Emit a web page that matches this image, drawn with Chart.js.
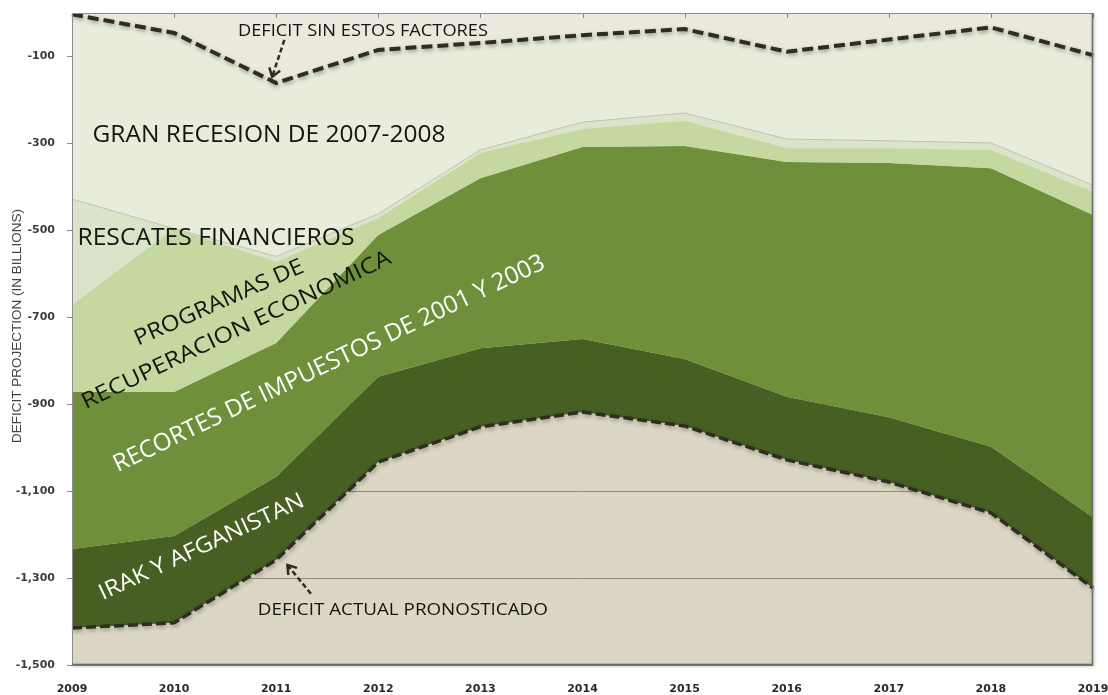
<!DOCTYPE html>
<html>
<head>
<meta charset="utf-8">
<script src="https://cdn.jsdelivr.net/npm/chart.js@4.4.1/dist/chart.umd.min.js"></script>
<style>
  body { margin: 0; background: #fff; }
  #wrap { width: 1108px; height: 695px; position: relative; }
</style>
</head>
<body>
<div id="wrap"><canvas id="deficit"></canvas></div>
<script>
// years on the x axis
const years = ['2009', '2010', '2011', '2012', '2013', '2014', '2015', '2016', '2017', '2018', '2019'];
const yTicks = [-1500, -1300, -1100, -900, -700, -500, -300, -100];

// boundary lines of the stacked bands, top to bottom (billions)
const deficitSinFactores = [-3, -46, -161, -85, -69, -51, -37, -89, -61, -33, -97];
const limiteRecesion     = [-428, -496, -560, -462, -315, -251, -230, -290, -294, -299, -396];
const limiteRescates     = [-672, -496, -572, -472, -322, -267, -248, -311, -311, -315, -412];
const limiteProgramas    = [-872, -872, -759, -511, -380, -308, -306, -343, -345, -357, -465];
const limiteRecortes     = [-1233, -1203, -1067, -837, -771, -750, -796, -883, -930, -998, -1160];
const deficitActual      = [-1415, -1403, -1258, -1033, -952, -918, -950, -1028, -1079, -1150, -1323];

// text labels placed in data coordinates (x = year index, y = value)
const labels = [
    {text: 'DEFICIT SIN ESTOS FACTORES', x: 2.85, y: -41, size: 17, width: 250, angle: 0, color: '#151510'},
    {text: 'GRAN RECESION DE 2007-2008', x: 1.93, y: -281, size: 24, width: 353, angle: 0, color: '#151510'},
    {text: 'RESCATES FINANCIEROS', x: 1.41, y: -518, size: 23, width: 277, angle: 0, color: '#151510'},
    {text: 'PROGRAMAS DE', x: 1.44, y: -667, size: 22, width: 183, angle: -24, color: '#151510'},
    {text: 'RECUPERACION ECONOMICA', x: 1.61, y: -730, size: 22, width: 340, angle: -25.5, color: '#151510'},
    {text: 'RECORTES DE IMPUESTOS DE 2001 Y 2003', x: 2.52, y: -807, size: 24, width: 475, angle: -25.5, color: '#ffffff'},
    {text: 'IRAK Y AFGANISTAN', x: 1.27, y: -1229, size: 22, width: 224, angle: -25, color: '#ffffff'},
    {text: 'DEFICIT ACTUAL PRONOSTICADO', x: 3.24, y: -1373, size: 17, width: 290, angle: 0, color: '#151510'}
];
const arrows = [
    {from: [2.08, -62], to: [1.96, -147]},
    {from: [2.34, -1336], to: [2.11, -1270]}
];

function band(data, color, extra) {
    return Object.assign({
        data: data,
        backgroundColor: color,
        borderWidth: 0,
        pointRadius: 0,
        tension: 0,
        fill: '-1'
    }, extra || {});
}

const deficitPlugin = {
    id: 'deficitPlugin',
    beforeDraw(chart) {
        const a = chart.chartArea, ctx = chart.ctx;
        ctx.save();
        ctx.fillStyle = '#dcd7c4';
        ctx.fillRect(a.left, a.top, a.right - a.left, a.bottom - a.top);
        ctx.restore();
    },
    beforeDatasetDraw(chart, args) {
        const ds = chart.data.datasets[args.index];
        chart.ctx.save();
        if (ds.borderDash) {
            chart.ctx.shadowColor = 'rgba(0,0,0,0.35)';
            chart.ctx.shadowBlur = 4;
            chart.ctx.shadowOffsetY = 2;
            chart.ctx.shadowOffsetX = 1;
        }
    },
    afterDatasetDraw(chart) {
        chart.ctx.restore();
    },
    afterDraw(chart) {
        const ctx = chart.ctx, a = chart.chartArea;
        const xs = chart.scales.x, ys = chart.scales.y;

        // frame of the plot
        ctx.save();
        ctx.strokeStyle = '#8d8d8d';
        ctx.lineWidth = 1;
        ctx.beginPath();
        ctx.moveTo(a.left + 0.5, a.bottom);
        ctx.lineTo(a.left + 0.5, a.top + 0.5);
        ctx.lineTo(a.right - 0.5, a.top + 0.5);
        ctx.stroke();
        for (let i = 0; i < years.length; i++) {
            const px = Math.round(xs.getPixelForTick(i)) + 0.5;
            ctx.beginPath();
            ctx.moveTo(px, a.top);
            ctx.lineTo(px, a.top + 5);
            ctx.stroke();
        }
        ctx.shadowColor = 'rgba(0,0,0,0.35)';
        ctx.shadowBlur = 3;
        ctx.shadowOffsetX = 1;
        ctx.shadowOffsetY = 1;
        ctx.strokeStyle = '#6d6d6d';
        ctx.lineWidth = 1.5;
        ctx.beginPath();
        ctx.moveTo(a.right - 0.5, a.top);
        ctx.lineTo(a.right - 0.5, a.bottom - 0.5);
        ctx.lineTo(a.left, a.bottom - 0.5);
        ctx.stroke();
        ctx.restore();

        // axis title
        ctx.save();
        ctx.translate(17, 326);
        ctx.rotate(-Math.PI / 2);
        ctx.font = '13.5px "Liberation Sans", Arial, sans-serif';
        ctx.fillStyle = '#444';
        ctx.textAlign = 'center';
        ctx.textBaseline = 'middle';
        ctx.fillText('DEFICIT PROJECTION (IN BILLIONS)', 0, 0);
        ctx.restore();

        // band labels
        labels.forEach(function(l) {
            ctx.save();
            ctx.translate(xs.getPixelForValue(l.x), ys.getPixelForValue(l.y));
            ctx.rotate(l.angle * Math.PI / 180);
            ctx.font = l.size + 'px "Open Sans", sans-serif';
            const w = ctx.measureText(l.text).width;
            ctx.scale(l.width / w, 1);
            ctx.fillStyle = l.color;
            ctx.textAlign = 'center';
            ctx.textBaseline = 'middle';
            ctx.fillText(l.text, 0, 0);
            ctx.restore();
        });

        // dashed arrows
        arrows.forEach(function(ar) {
            const x0 = xs.getPixelForValue(ar.from[0]), y0 = ys.getPixelForValue(ar.from[1]);
            const x1 = xs.getPixelForValue(ar.to[0]), y1 = ys.getPixelForValue(ar.to[1]);
            const ang = Math.atan2(y1 - y0, x1 - x0);
            ctx.save();
            ctx.strokeStyle = '#2e2c22';
            ctx.lineWidth = 2.5;
            ctx.setLineDash([5, 3]);
            ctx.beginPath();
            ctx.moveTo(x0, y0);
            ctx.lineTo(x1, y1);
            ctx.stroke();
            ctx.setLineDash([]);
            ctx.beginPath();
            ctx.moveTo(x1 - 10 * Math.cos(ang - 0.6), y1 - 10 * Math.sin(ang - 0.6));
            ctx.lineTo(x1, y1);
            ctx.lineTo(x1 - 10 * Math.cos(ang + 0.6), y1 - 10 * Math.sin(ang + 0.6));
            ctx.stroke();
            ctx.restore();
        });
    }
};

new Chart(document.getElementById('deficit'), {
    type: 'line',
    data: {
        labels: years,
        datasets: [
            band(deficitSinFactores, '#ebe8dd', {fill: 'end', borderColor: '#2f2d23', borderWidth: 4, borderDash: [11, 5]}),
            band(limiteRecesion, '#e8eddb', {borderColor: '#bfc3b2', borderWidth: 1}),
            band(limiteRescates, '#dbe3c8'),
            band(limiteProgramas, '#c4d8a0'),
            band(limiteRecortes, '#6f8f3a'),
            band(deficitActual, '#475f23', {borderColor: '#2f2d23', borderWidth: 3.5, borderDash: [10, 4]})
        ]
    },
    options: {
        responsive: true,
        maintainAspectRatio: false,
        animation: false,
        layout: {padding: {top: 13, right: 15, left: 0, bottom: 0}},
        plugins: {
            legend: {display: false},
            tooltip: {enabled: false}
        },
        scales: {
            x: {
                afterFit: function(s) {
                    s.height = 30;
                    s.paddingLeft = 0;
                    s.paddingRight = 0;
                },
                grid: {display: false},
                border: {display: false},
                ticks: {
                    padding: 10,
                    maxRotation: 0,
                    color: '#2a2a2a',
                    font: {family: '"DejaVu Sans"', size: 11, weight: 'bold'}
                }
            },
            y: {
                min: -1500,
                max: 0,
                afterFit: function(s) {
                    s.width = 72;
                    s.paddingTop = 0;
                    s.paddingBottom = 0;
                },
                afterBuildTicks: function(s) { s.ticks = yTicks.map(v => ({value: v})); },
                grid: {color: '#8f8a7c', lineWidth: 1, tickLength: 5},
                border: {display: false},
                ticks: {
                    padding: 12,
                    color: '#3c3c3c',
                    font: {family: '"DejaVu Sans"', size: 11, weight: 'bold'},
                    callback: v => v.toLocaleString('en-US')
                }
            }
        }
    },
    plugins: [deficitPlugin]
});
</script>
</body>
</html>
